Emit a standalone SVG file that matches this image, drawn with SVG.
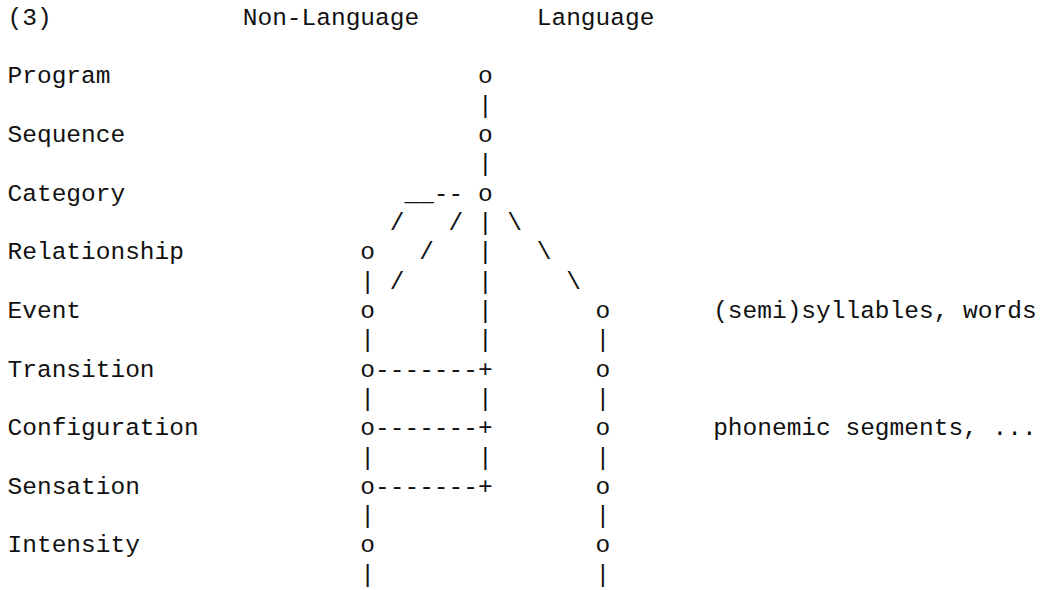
<svg xmlns="http://www.w3.org/2000/svg" width="1040" height="590" viewBox="0 0 1040 590">
<style>
text { font-family: "Liberation Mono", "Courier New", monospace; font-size: 24.5px; fill: #111; }
.c { text-anchor: middle; }
</style>
<rect x="0" y="0" width="1040" height="590" fill="#fff"/>
<g id="headers">
<text x="7.55" y="24.5">(3)</text>
<text x="242.75" y="24.5">Non-Language</text>
<text x="536.75" y="24.5">Language</text>
</g>
<g id="row-labels">
<text x="7.55" y="83.2">Program</text>
<text x="7.55" y="141.8">Sequence</text>
<text x="7.55" y="200.5">Category</text>
<text x="7.55" y="259.1">Relationship</text>
<text x="7.55" y="317.8">Event</text>
<text x="7.55" y="376.5">Transition</text>
<text x="7.55" y="435.1">Configuration</text>
<text x="7.55" y="493.8">Sensation</text>
<text x="7.55" y="552.4">Intensity</text>
</g>
<g id="side-notes">
<text x="713.15" y="317.8">(semi)syllables, words</text>
<text x="713.15" y="435.1">phonemic segments, ...</text>
</g>
<g id="n-program"><text class="c" x="485.3" y="83.2">o</text></g>
<g id="n-sequence"><text class="c" x="485.3" y="141.8">o</text></g>
<g id="n-category"><text class="c" x="485.3" y="200.5">o</text></g>
<g id="n-relationship"><text class="c" x="367.7" y="259.1">o</text></g>
<g id="n-event-nl"><text class="c" x="367.7" y="317.8">o</text></g>
<g id="n-event-l"><text class="c" x="602.9" y="317.8">o</text></g>
<g id="n-transition-nl"><text class="c" x="367.7" y="376.5">o</text></g>
<g id="n-transition-l"><text class="c" x="602.9" y="376.5">o</text></g>
<g id="n-configuration-nl"><text class="c" x="367.7" y="435.1">o</text></g>
<g id="n-configuration-l"><text class="c" x="602.9" y="435.1">o</text></g>
<g id="n-sensation-nl"><text class="c" x="367.7" y="493.8">o</text></g>
<g id="n-sensation-l"><text class="c" x="602.9" y="493.8">o</text></g>
<g id="n-intensity-nl"><text class="c" x="367.7" y="552.4">o</text></g>
<g id="n-intensity-l"><text class="c" x="602.9" y="552.4">o</text></g>
<g id="connectors">
<text class="c" x="485.3" y="112.5">|</text>
<text class="c" x="485.3" y="171.2">|</text>
<text x="404.45" y="200.5">__--</text>
<text class="c" x="397.1" y="229.8">/</text>
<text class="c" x="455.9" y="229.8">/</text>
<text class="c" x="485.3" y="229.8">|</text>
<text class="c" x="514.7" y="229.8">\</text>
<text class="c" x="426.5" y="259.1">/</text>
<text class="c" x="485.3" y="259.1">|</text>
<text class="c" x="544.1" y="259.1">\</text>
<text class="c" x="367.7" y="288.5">|</text>
<text class="c" x="397.1" y="288.5">/</text>
<text class="c" x="485.3" y="288.5">|</text>
<text class="c" x="573.5" y="288.5">\</text>
<text class="c" x="485.3" y="317.8">|</text>
<text class="c" x="367.7" y="347.1">|</text>
<text class="c" x="485.3" y="347.1">|</text>
<text class="c" x="602.9" y="347.1">|</text>
<text x="375.05" y="376.5">-------+</text>
<text class="c" x="367.7" y="405.8">|</text>
<text class="c" x="485.3" y="405.8">|</text>
<text class="c" x="602.9" y="405.8">|</text>
<text x="375.05" y="435.1">-------+</text>
<text class="c" x="367.7" y="464.5">|</text>
<text class="c" x="485.3" y="464.5">|</text>
<text class="c" x="602.9" y="464.5">|</text>
<text x="375.05" y="493.8">-------+</text>
<text class="c" x="367.7" y="523.1">|</text>
<text class="c" x="602.9" y="523.1">|</text>
<text class="c" x="367.7" y="581.8">|</text>
<text class="c" x="602.9" y="581.8">|</text>
</g>
</svg>
